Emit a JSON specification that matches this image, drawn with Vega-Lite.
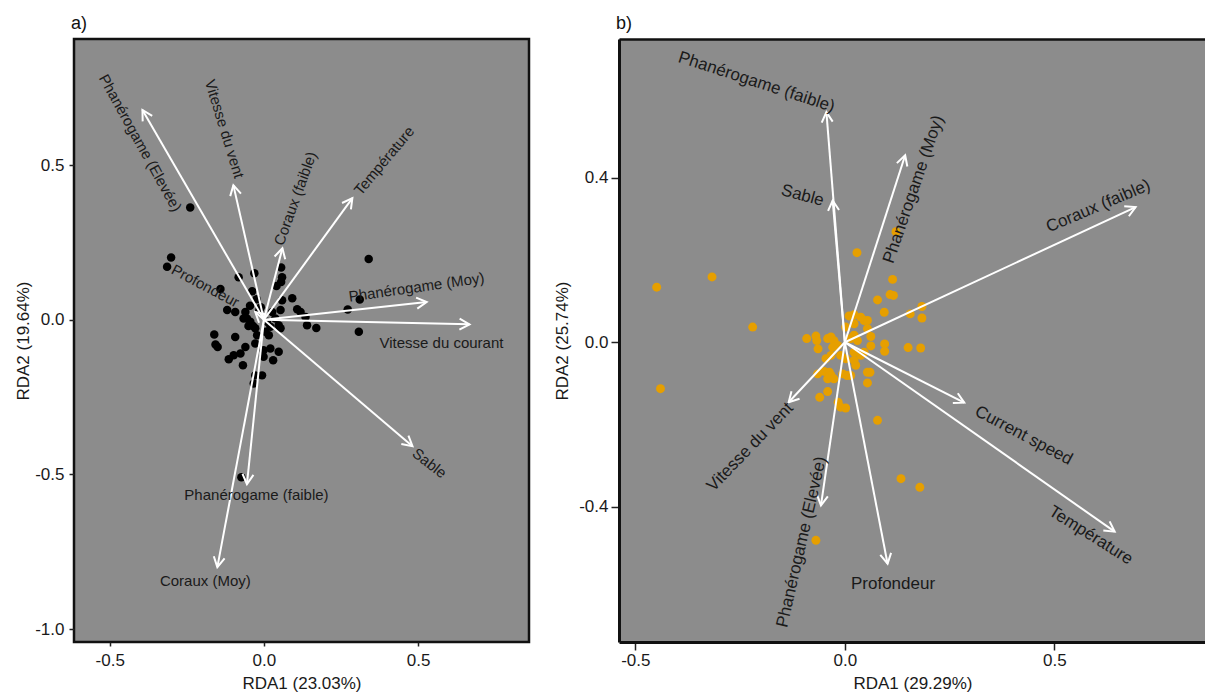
{
  "$schema": "https://vega.github.io/schema/vega-lite/v6.json",
  "background": "white",
  "padding": {"left": 13, "top": 13, "right": 0, "bottom": 0},
  "autosize": {"type": "pad"},
  "spacing": 22,
  "config": {
    "font": "Liberation Sans",
    "view": {"fill": "#8c8c8c", "stroke": "#111111", "strokeWidth": 2.5},
    "axis": {
      "grid": false, "domain": false,
      "labelFontSize": 17, "titleFontSize": 17, "titleFontWeight": "normal",
      "labelColor": "#1a1a1a", "titleColor": "#1a1a1a",
      "tickColor": "#222222", "tickSize": 5, "tickWidth": 1.5,
      "labelPadding": 4, "titlePadding": 2,
      "labelExpr": "replace(format(datum.value, '.1f'), '\u2212', '-')"
    },
    "title": {"fontSize": 18, "fontWeight": "normal", "anchor": "start", "frame": "group", "color": "#111111", "offset": 6, "dx": -3}
  },
  "datasets": {
    "ptsA": [
      {"x": -0.301, "y": 0.201}, {"x": -0.314, "y": 0.171}, {"x": -0.239, "y": 0.363}, {"x": 0.340, "y": 0.196},
      {"x": -0.082, "y": 0.137}, {"x": -0.031, "y": 0.150}, {"x": 0.056, "y": 0.169}, {"x": 0.059, "y": 0.137},
      {"x": 0.056, "y": 0.122}, {"x": -0.141, "y": 0.099}, {"x": -0.038, "y": 0.092}, {"x": 0.041, "y": 0.109},
      {"x": -0.024, "y": 0.066}, {"x": 0.059, "y": 0.063}, {"x": 0.092, "y": 0.069}, {"x": -0.119, "y": 0.031},
      {"x": -0.093, "y": 0.025}, {"x": -0.060, "y": 0.025}, {"x": -0.055, "y": 0.004}, {"x": -0.044, "y": -0.007},
      {"x": -0.066, "y": 0.004}, {"x": 0.108, "y": 0.034}, {"x": 0.119, "y": 0.025}, {"x": 0.027, "y": 0.025},
      {"x": 0.054, "y": 0.031}, {"x": 0.037, "y": 0.004}, {"x": 0.135, "y": 0.009}, {"x": 0.140, "y": -0.018},
      {"x": 0.170, "y": -0.027}, {"x": 0.048, "y": -0.018}, {"x": 0.054, "y": -0.028}, {"x": 0.010, "y": -0.007},
      {"x": 0.021, "y": -0.023}, {"x": 0.005, "y": -0.039}, {"x": 0.016, "y": -0.050}, {"x": -0.028, "y": -0.028},
      {"x": -0.022, "y": -0.050}, {"x": -0.028, "y": -0.077}, {"x": -0.161, "y": -0.048}, {"x": -0.157, "y": -0.080},
      {"x": -0.150, "y": -0.088}, {"x": -0.093, "y": -0.056}, {"x": -0.060, "y": -0.088}, {"x": -0.114, "y": -0.128},
      {"x": -0.098, "y": -0.115}, {"x": -0.076, "y": -0.109}, {"x": -0.068, "y": -0.147}, {"x": -0.001, "y": -0.099},
      {"x": 0.021, "y": -0.093}, {"x": 0.048, "y": -0.104}, {"x": 0.030, "y": -0.131}, {"x": -0.001, "y": -0.120},
      {"x": -0.006, "y": -0.180}, {"x": -0.028, "y": -0.180}, {"x": -0.033, "y": -0.206}, {"x": 0.311, "y": 0.065},
      {"x": 0.272, "y": 0.033}, {"x": 0.308, "y": -0.039}, {"x": -0.073, "y": -0.509}, {"x": -0.045, "y": 0.045},
      {"x": -0.035, "y": -0.020}, {"x": -0.015, "y": 0.030}, {"x": -0.050, "y": -0.020}, {"x": -0.010, "y": 0.040}
    ],
    "arrA": [
      {"var": "Phanérogame (Elevée)", "x0": 0, "y0": 0, "x": -0.394, "y": 0.678, "lx": -0.401, "ly": 0.571, "la": 61},
      {"var": "Vitesse du vent", "x0": 0, "y0": 0, "x": -0.099, "y": 0.435, "lx": -0.128, "ly": 0.617, "la": 73},
      {"var": "Coraux (faible)", "x0": 0, "y0": 0, "x": 0.060, "y": 0.231, "lx": 0.102, "ly": 0.392, "la": -70},
      {"var": "Température", "x0": 0, "y0": 0, "x": 0.287, "y": 0.393, "lx": 0.390, "ly": 0.514, "la": -50},
      {"var": "Phanérogame (Moy)", "x0": 0, "y0": 0, "x": 0.528, "y": 0.057, "lx": 0.495, "ly": 0.105, "la": -8},
      {"var": "Vitesse du courant", "x0": 0, "y0": 0, "x": 0.667, "y": -0.015, "lx": 0.576, "ly": -0.076, "la": 0},
      {"var": "Sable", "x0": 0, "y0": 0, "x": 0.482, "y": -0.409, "lx": 0.537, "ly": -0.464, "la": 38},
      {"var": "Phanérogame (faible)", "x0": 0, "y0": 0, "x": -0.055, "y": -0.532, "lx": -0.024, "ly": -0.568, "la": 0},
      {"var": "Coraux (Moy)", "x0": 0, "y0": 0, "x": -0.151, "y": -0.800, "lx": -0.190, "ly": -0.845, "la": 0},
      {"var": "Profondeur", "x0": 0, "y0": 0, "x": -0.028, "y": 0.025, "lx": -0.190, "ly": 0.109, "la": 28}
    ],
    "ptsB": [
      {"x": 0.029, "y": 0.218}, {"x": -0.449, "y": 0.134}, {"x": -0.317, "y": 0.159}, {"x": -0.220, "y": 0.037},
      {"x": -0.440, "y": -0.113}, {"x": 0.114, "y": 0.153}, {"x": 0.108, "y": 0.116}, {"x": 0.116, "y": 0.114},
      {"x": 0.078, "y": 0.103}, {"x": 0.094, "y": 0.073}, {"x": 0.184, "y": 0.087}, {"x": 0.156, "y": 0.069},
      {"x": 0.184, "y": 0.059}, {"x": 0.151, "y": -0.013}, {"x": 0.181, "y": -0.014}, {"x": 0.095, "y": -0.004},
      {"x": 0.095, "y": -0.022}, {"x": 0.078, "y": -0.190}, {"x": 0.134, "y": -0.332}, {"x": 0.179, "y": -0.353},
      {"x": -0.069, "y": -0.482}, {"x": -0.060, "y": -0.134}, {"x": -0.041, "y": -0.120}, {"x": -0.016, "y": -0.146},
      {"x": -0.010, "y": -0.158}, {"x": 0.002, "y": -0.160}, {"x": 0.054, "y": -0.099}, {"x": 0.054, "y": -0.073},
      {"x": 0.060, "y": -0.073}, {"x": 0.026, "y": -0.056}, {"x": 0.022, "y": -0.044}, {"x": 0.062, "y": -0.009},
      {"x": 0.062, "y": 0.014}, {"x": 0.054, "y": 0.033}, {"x": 0.046, "y": 0.053}, {"x": 0.054, "y": 0.053},
      {"x": 0.038, "y": 0.061}, {"x": 0.010, "y": 0.064}, {"x": 0.022, "y": 0.067}, {"x": 0.022, "y": 0.045},
      {"x": -0.091, "y": 0.009}, {"x": -0.069, "y": 0.015}, {"x": -0.067, "y": 0.004}, {"x": -0.064, "y": -0.016},
      {"x": -0.041, "y": 0.009}, {"x": -0.033, "y": 0.013}, {"x": -0.026, "y": 0.004}, {"x": -0.029, "y": -0.012},
      {"x": -0.017, "y": -0.008}, {"x": 0.002, "y": 0.037}, {"x": 0.014, "y": 0.009}, {"x": 0.030, "y": 0.004},
      {"x": 0.022, "y": 0.017}, {"x": -0.045, "y": -0.040}, {"x": -0.033, "y": -0.032}, {"x": -0.065, "y": -0.077},
      {"x": -0.049, "y": -0.071}, {"x": -0.037, "y": -0.073}, {"x": -0.033, "y": -0.081}, {"x": -0.041, "y": -0.089},
      {"x": -0.026, "y": -0.089}, {"x": -0.005, "y": -0.077}, {"x": 0.005, "y": -0.081}, {"x": 0.014, "y": -0.081},
      {"x": -0.010, "y": -0.032}, {"x": 0.002, "y": -0.040}, {"x": 0.022, "y": -0.024}, {"x": 0.038, "y": -0.032},
      {"x": 0.046, "y": -0.024}, {"x": 0.122, "y": 0.269}
    ],
    "arrB": [
      {"var": "Phanérogame (faible)", "x0": 0, "y0": 0, "x": -0.044, "y": 0.560, "lx": -0.211, "ly": 0.633, "la": 18},
      {"var": "Sable", "x0": 0, "y0": 0, "x": -0.029, "y": 0.345, "lx": -0.101, "ly": 0.357, "la": 15},
      {"var": "Phanérogame (Moy)", "x0": 0, "y0": 0, "x": 0.144, "y": 0.455, "lx": 0.164, "ly": 0.372, "la": -71},
      {"var": "Coraux (faible)", "x0": 0, "y0": 0, "x": 0.694, "y": 0.329, "lx": 0.605, "ly": 0.331, "la": -23},
      {"var": "Vitesse du vent", "x0": 0, "y0": 0, "x": -0.134, "y": -0.146, "lx": -0.226, "ly": -0.255, "la": -46},
      {"var": "Phanérogame (Elevée)", "x0": 0, "y0": 0, "x": -0.057, "y": -0.397, "lx": -0.103, "ly": -0.486, "la": -77},
      {"var": "Profondeur", "x0": 0, "y0": 0, "x": 0.102, "y": -0.539, "lx": 0.115, "ly": -0.588, "la": 0},
      {"var": "Current speed", "x0": 0, "y0": 0, "x": 0.285, "y": -0.147, "lx": 0.427, "ly": -0.227, "la": 28},
      {"var": "Température", "x0": 0, "y0": 0, "x": 0.644, "y": -0.461, "lx": 0.587, "ly": -0.470, "la": 32}
    ]
  },
  "hconcat": [
    {
      "width": 455, "height": 603,
      "title": {"text": "a)"},
      "layer": [
        {
          "data": {"name": "ptsA"},
          "mark": {"type": "circle", "size": 72, "opacity": 1, "color": "#000000"},
          "encoding": {
            "x": {"field": "x", "type": "quantitative", "scale": {"domain": [-0.616, 0.86], "nice": false, "zero": false}, "axis": {"values": [-0.5, 0, 0.5], "title": "RDA1 (23.03%)", "tickSize": 4, "labelPadding": 6, "titlePadding": 7.5}},
            "y": {"field": "y", "type": "quantitative", "scale": {"domain": [-1.042, 0.9075], "nice": false, "zero": false}, "axis": {"values": [-1, -0.5, 0, 0.5], "title": "RDA2 (19.64%)", "tickSize": 5, "labelPadding": 5, "titlePadding": 2}}
          }
        },
        {
          "data": {"name": "arrA"},
          "mark": {"type": "rule", "color": "white", "strokeWidth": 2},
          "encoding": {"x": {"field": "x0", "type": "quantitative"}, "y": {"field": "y0", "type": "quantitative"}, "x2": {"field": "x"}, "y2": {"field": "y"}}
        },
        {
          "data": {"name": "arrA"},
          "transform": [{"calculate": "atan2(datum.x * 308, datum.y * 309) * 180 / PI", "as": "head"}],
          "mark": {"type": "point", "shape": "M -0.55 1 L 0 0 L 0.55 1", "filled": false, "stroke": "white", "strokeWidth": 2, "size": 400, "opacity": 1},
          "encoding": {
            "x": {"field": "x", "type": "quantitative"},
            "y": {"field": "y", "type": "quantitative"},
            "angle": {"field": "head", "type": "quantitative", "scale": null}
          }
        },
        {
          "data": {"name": "arrA"},
          "mark": {"type": "text", "fontSize": 15, "color": "#1a1a1a", "align": "center", "baseline": "middle"},
          "encoding": {
            "x": {"field": "lx", "type": "quantitative"},
            "y": {"field": "ly", "type": "quantitative"},
            "text": {"field": "var", "type": "nominal"},
            "angle": {"field": "la", "type": "quantitative", "scale": null}
          }
        }
      ]
    },
    {
      "width": 587, "height": 603,
      "title": {"text": "b)"},
      "view": {"stroke": null, "fill": "#8c8c8c"},
      "resolve": {"axis": {"x": "independent", "y": "independent"}},
      "layer": [
        {
          "data": {"name": "ptsB"},
          "mark": {"type": "circle", "size": 80, "opacity": 1, "color": "#E69F00"},
          "encoding": {
            "x": {"field": "x", "type": "quantitative", "scale": {"domain": [-0.539, 0.862], "nice": false, "zero": false}, "axis": {"values": [-0.5, 0, 0.5], "title": "RDA1 (29.29%)", "domain": true, "domainColor": "#111111", "domainWidth": 3, "tickSize": 8, "labelPadding": 2, "titlePadding": 7.5}},
            "y": {"field": "y", "type": "quantitative", "scale": {"domain": [-0.7295, 0.738], "nice": false, "zero": false}, "axis": {"values": [-0.4, 0, 0.4], "title": "RDA2 (25.74%)", "domain": true, "domainColor": "#111111", "domainWidth": 3, "tickSize": 8, "labelPadding": 3, "titlePadding": 7}}
          }
        },
        {
          "data": {"name": "arrB"},
          "mark": {"type": "rule", "color": "white", "strokeWidth": 2},
          "encoding": {"x": {"field": "x0", "type": "quantitative", "axis": null}, "y": {"field": "y0", "type": "quantitative", "axis": null}, "x2": {"field": "x"}, "y2": {"field": "y"}}
        },
        {
          "data": {"name": "arrB"},
          "transform": [{"calculate": "atan2(datum.x * 419, datum.y * 410.8) * 180 / PI", "as": "head"}],
          "mark": {"type": "point", "shape": "M -0.55 1 L 0 0 L 0.55 1", "filled": false, "stroke": "white", "strokeWidth": 2, "size": 400, "opacity": 1},
          "encoding": {
            "x": {"field": "x", "type": "quantitative", "axis": {"orient": "top", "labels": false, "ticks": false, "title": null, "domain": true, "domainColor": "#111111", "domainWidth": 2.5}},
            "y": {"field": "y", "type": "quantitative", "axis": null},
            "angle": {"field": "head", "type": "quantitative", "scale": null}
          }
        },
        {
          "data": {"name": "arrB"},
          "mark": {"type": "text", "fontSize": 17, "color": "#1a1a1a", "align": "center", "baseline": "middle"},
          "encoding": {
            "x": {"field": "lx", "type": "quantitative", "axis": null},
            "y": {"field": "ly", "type": "quantitative", "axis": null},
            "text": {"field": "var", "type": "nominal"},
            "angle": {"field": "la", "type": "quantitative", "scale": null}
          }
        }
      ]
    }
  ]
}
